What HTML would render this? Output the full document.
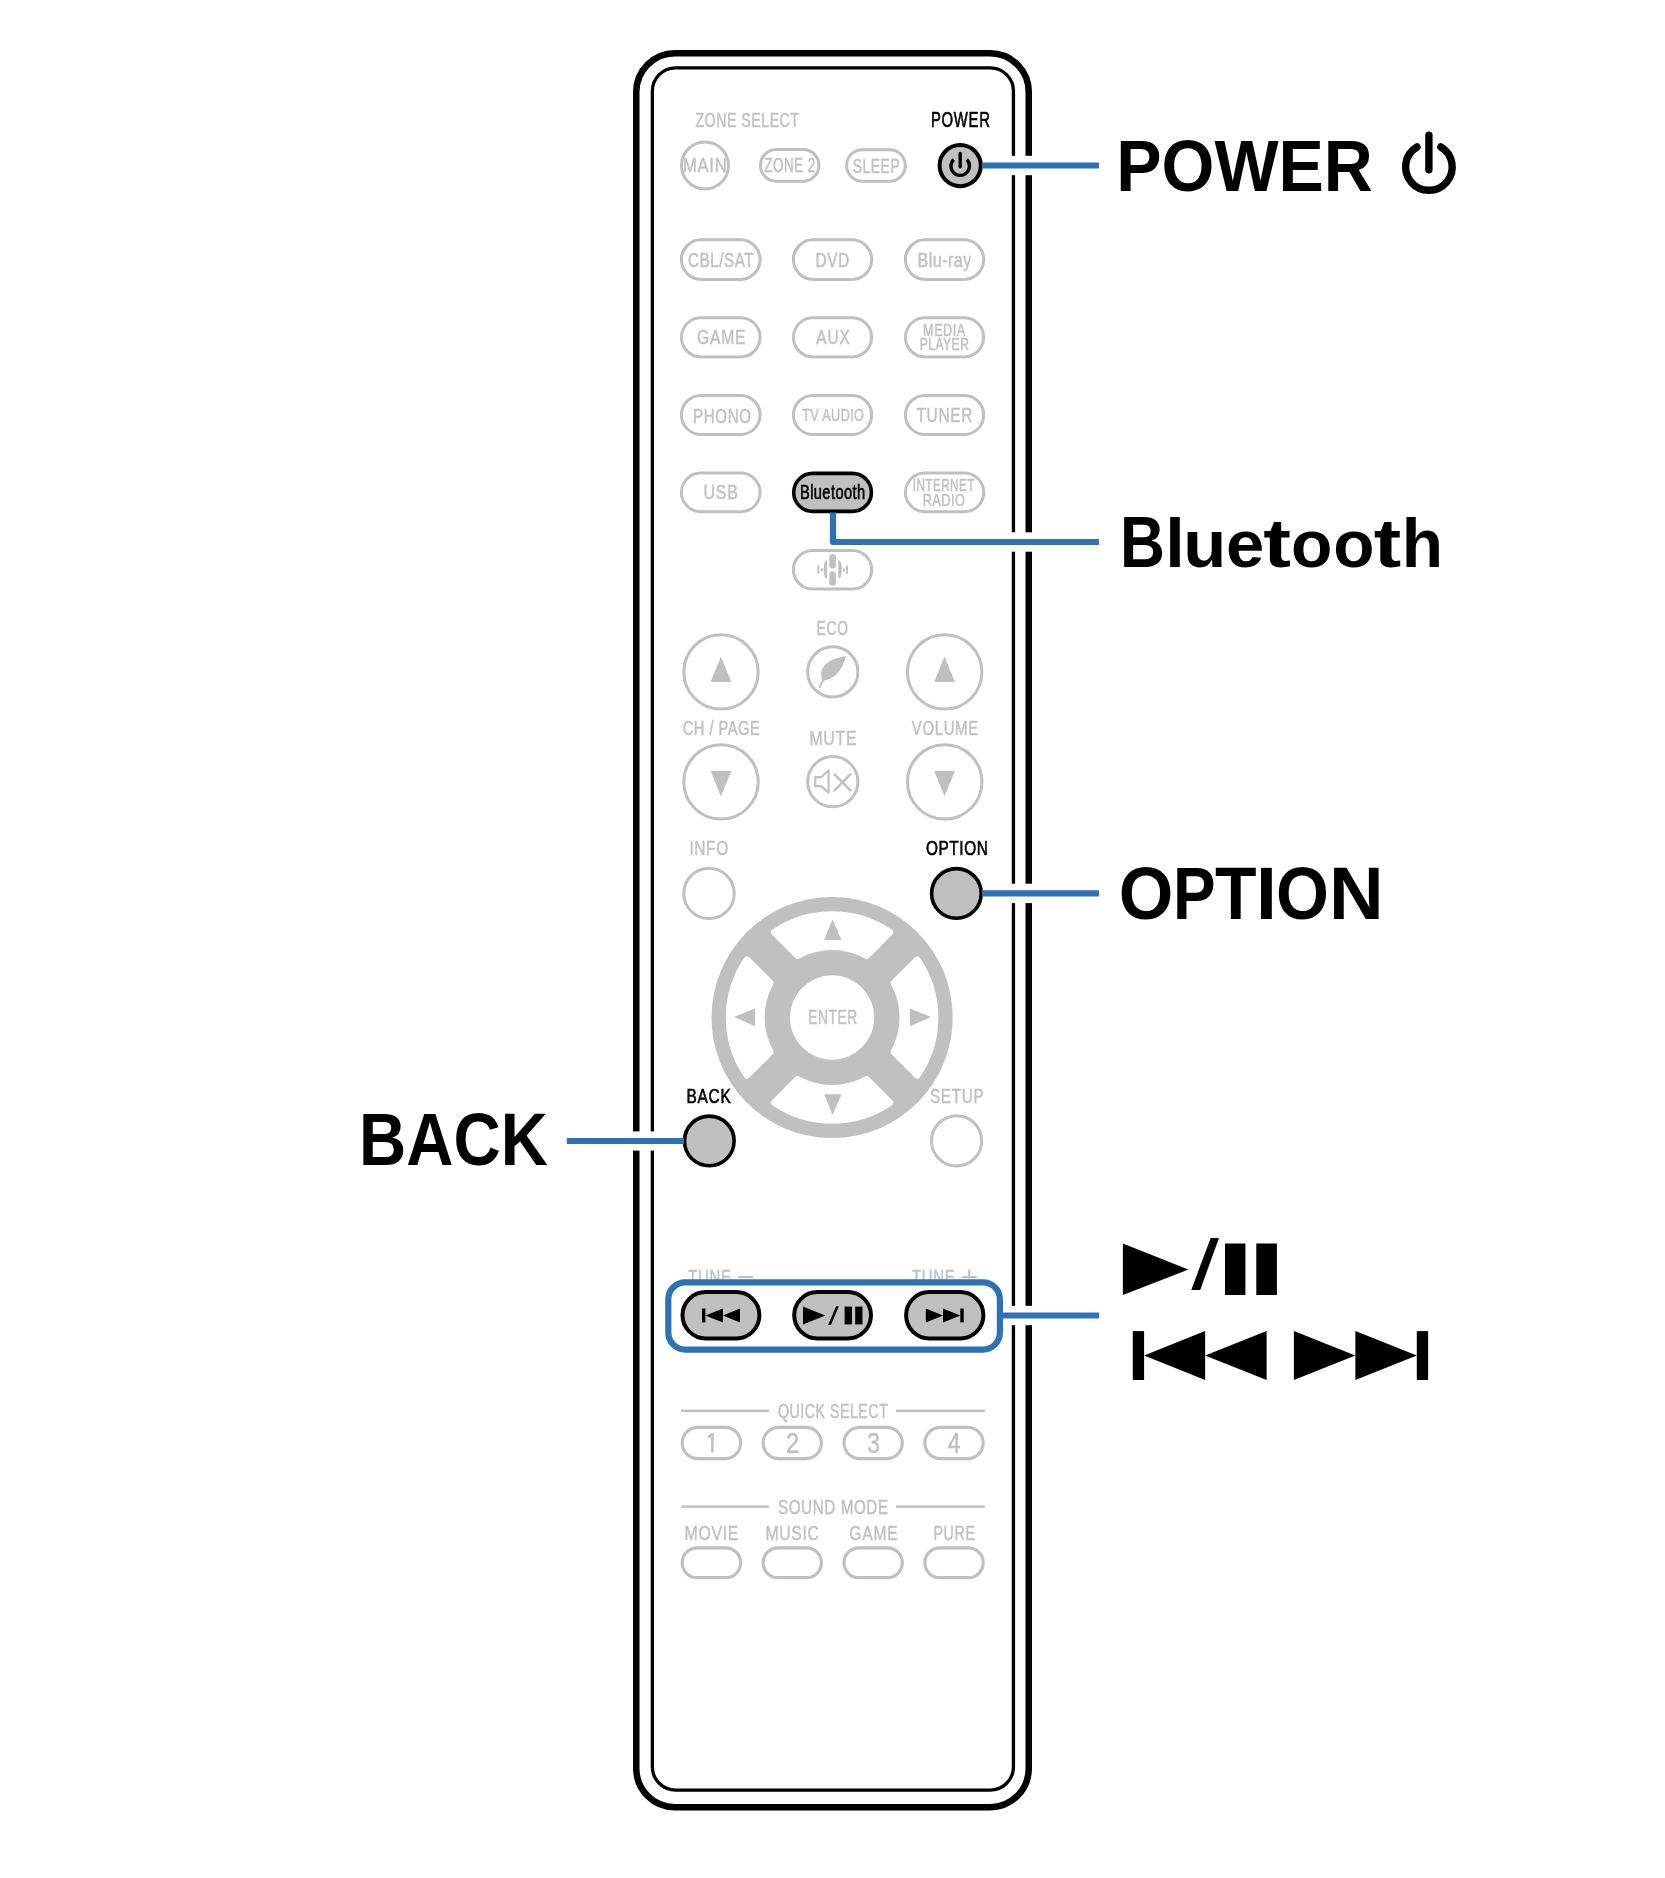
<!DOCTYPE html>
<html><head><meta charset="utf-8"><title>Remote</title>
<style>
html,body{margin:0;padding:0;background:#fff;}
body{width:1665px;height:1878px;overflow:hidden;}
svg{display:block;will-change:transform;font-family:"Liberation Sans",sans-serif;}
</style></head><body>
<svg width="1665" height="1878" viewBox="0 0 1665 1878">
<rect width="1665" height="1878" fill="#fff"/>
<rect x="636.25" y="53.25" width="392.5" height="1754.0" rx="38.75" fill="none" stroke="#000" stroke-width="6.5"/>
<rect x="652.35" y="67.85" width="361.10" height="1722.20" rx="23.35" fill="none" stroke="#000" stroke-width="3.3"/>
<rect x="1005" y="155.80" width="32" height="19.4" fill="#fff"/>
<rect x="1005" y="532.30" width="32" height="19.4" fill="#fff"/>
<rect x="1005" y="883.70" width="32" height="19.4" fill="#fff"/>
<rect x="1005" y="1305.80" width="32" height="19.4" fill="#fff"/>
<rect x="628" y="1131.40" width="32" height="19.2" fill="#fff"/>
<text transform="translate(695.90,127.20) scale(0.6872,1)" x="-0.66" y="0" font-size="20.64" letter-spacing="0.749" fill="#c0c0c0" stroke="#c0c0c0" stroke-width="0.4" vector-effect="non-scaling-stroke">ZONE SELECT</text>
<text transform="translate(932.10,127.40) scale(0.7016,1)" x="-1.74" y="0" font-size="21.22" letter-spacing="1.019" fill="#000" stroke="#000" stroke-width="0.55" vector-effect="non-scaling-stroke">POWER</text>
<circle cx="705.00" cy="165.50" r="23.50" fill="none" stroke="#c0c0c0" stroke-width="3"/>
<text transform="translate(684.40,172.30) scale(0.8059,1)" x="-1.69" y="0" font-size="20.64" letter-spacing="0.846" fill="#c0c0c0" stroke="#c0c0c0" stroke-width="0.4" vector-effect="non-scaling-stroke">MAIN</text>
<rect x="760.40" y="149.50" width="58.50" height="31.80" rx="15.90" fill="none" stroke="#c0c0c0" stroke-width="3"/>
<text transform="translate(764.70,172.30) scale(0.6507,1)" x="-0.66" y="0" font-size="20.64" letter-spacing="0.767" fill="#c0c0c0" stroke="#c0c0c0" stroke-width="0.4" vector-effect="non-scaling-stroke">ZONE 2</text>
<rect x="846.60" y="149.70" width="58.70" height="31.50" rx="15.75" fill="none" stroke="#c0c0c0" stroke-width="3"/>
<text transform="translate(853.30,172.50) scale(0.6909,1)" x="-0.92" y="0" font-size="20.06" letter-spacing="0.825" fill="#c0c0c0" stroke="#c0c0c0" stroke-width="0.4" vector-effect="non-scaling-stroke">SLEEP</text>
<circle cx="960.20" cy="165.60" r="20.60" fill="#c0c0c0" stroke="#000" stroke-width="4"/>
<path d="M953.7,159.5 A9.25,9.25 0 1 0 966.7,159.5" fill="none" stroke="#000" stroke-width="3.4" stroke-linecap="butt"/>
<line x1="960.2" y1="153.4" x2="960.2" y2="166.8" stroke="#000" stroke-width="3.4" stroke-linecap="round"/>
<rect x="681.40" y="239.80" width="78.70" height="39.60" rx="19.80" fill="none" stroke="#c0c0c0" stroke-width="3"/>
<rect x="793.40" y="239.80" width="78.30" height="39.60" rx="19.80" fill="none" stroke="#c0c0c0" stroke-width="3"/>
<rect x="905.40" y="239.80" width="78.30" height="39.60" rx="19.80" fill="none" stroke="#c0c0c0" stroke-width="3"/>
<rect x="681.40" y="317.70" width="78.70" height="39.20" rx="19.60" fill="none" stroke="#c0c0c0" stroke-width="3"/>
<rect x="793.40" y="317.70" width="78.30" height="39.20" rx="19.60" fill="none" stroke="#c0c0c0" stroke-width="3"/>
<rect x="905.40" y="317.70" width="78.30" height="39.20" rx="19.60" fill="none" stroke="#c0c0c0" stroke-width="3"/>
<rect x="681.40" y="395.40" width="78.70" height="39.00" rx="19.50" fill="none" stroke="#c0c0c0" stroke-width="3"/>
<rect x="793.40" y="395.40" width="78.30" height="39.00" rx="19.50" fill="none" stroke="#c0c0c0" stroke-width="3"/>
<rect x="905.40" y="395.40" width="78.30" height="39.00" rx="19.50" fill="none" stroke="#c0c0c0" stroke-width="3"/>
<rect x="681.40" y="473.10" width="78.70" height="38.60" rx="19.30" fill="none" stroke="#c0c0c0" stroke-width="3"/>
<rect x="793.70" y="473.40" width="77.70" height="38.00" rx="19.00" fill="#c0c0c0" stroke="#000" stroke-width="3.6"/>
<rect x="905.40" y="473.10" width="78.30" height="38.60" rx="19.30" fill="none" stroke="#c0c0c0" stroke-width="3"/>
<text transform="translate(688.80,267.10) scale(0.7333,1)" x="-1.04" y="0" font-size="20.78" letter-spacing="0.733" fill="#c0c0c0" stroke="#c0c0c0" stroke-width="0.4" vector-effect="non-scaling-stroke">CBL/SAT</text>
<text transform="translate(816.70,267.10) scale(0.7310,1)" x="-1.70" y="0" font-size="20.78" letter-spacing="1.084" fill="#c0c0c0" stroke="#c0c0c0" stroke-width="0.4" vector-effect="non-scaling-stroke">DVD</text>
<text transform="translate(918.80,267.10) scale(0.7781,1)" x="-1.70" y="0" font-size="20.78" letter-spacing="0.562" fill="#c0c0c0" stroke="#c0c0c0" stroke-width="0.4" vector-effect="non-scaling-stroke">Blu-ray</text>
<text transform="translate(697.70,344.40) scale(0.7564,1)" x="-1.04" y="0" font-size="20.78" letter-spacing="1.040" fill="#c0c0c0" stroke="#c0c0c0" stroke-width="0.4" vector-effect="non-scaling-stroke">GAME</text>
<text transform="translate(816.30,344.40) scale(0.7438,1)" x="-0.04" y="0" font-size="20.78" letter-spacing="1.113" fill="#c0c0c0" stroke="#c0c0c0" stroke-width="0.4" vector-effect="non-scaling-stroke">AUX</text>
<text transform="translate(924.10,336.00) scale(0.7732,1)" x="-1.35" y="0" font-size="16.42" letter-spacing="0.666" fill="#c0c0c0" stroke="#c0c0c0" stroke-width="0.4" vector-effect="non-scaling-stroke">MEDIA</text>
<text transform="translate(920.70,350.30) scale(0.7102,1)" x="-1.39" y="0" font-size="17.01" letter-spacing="0.670" fill="#c0c0c0" stroke="#c0c0c0" stroke-width="0.4" vector-effect="non-scaling-stroke">PLAYER</text>
<text transform="translate(694.20,422.60) scale(0.7456,1)" x="-1.66" y="0" font-size="20.20" letter-spacing="0.941" fill="#c0c0c0" stroke="#c0c0c0" stroke-width="0.4" vector-effect="non-scaling-stroke">PHONO</text>
<text transform="translate(802.40,421.20) scale(0.7275,1)" x="-0.38" y="0" font-size="17.30" letter-spacing="0.598" fill="#c0c0c0" stroke="#c0c0c0" stroke-width="0.4" vector-effect="non-scaling-stroke">TV AUDIO</text>
<text transform="translate(916.80,422.00) scale(0.7647,1)" x="-0.44" y="0" font-size="20.20" letter-spacing="0.897" fill="#c0c0c0" stroke="#c0c0c0" stroke-width="0.4" vector-effect="non-scaling-stroke">TUNER</text>
<text transform="translate(704.70,499.30) scale(0.7665,1)" x="-1.62" y="0" font-size="20.78" letter-spacing="1.053" fill="#c0c0c0" stroke="#c0c0c0" stroke-width="0.4" vector-effect="non-scaling-stroke">USB</text>
<text transform="translate(801.20,498.90) scale(0.7261,1)" x="-1.66" y="0" font-size="20.20" letter-spacing="0.542" fill="#000" stroke="#000" stroke-width="0.55" vector-effect="non-scaling-stroke">Bluetooth</text>
<text transform="translate(913.80,491.40) scale(0.7162,1)" x="-1.51" y="0" font-size="16.42" letter-spacing="0.603" fill="#c0c0c0" stroke="#c0c0c0" stroke-width="0.4" vector-effect="non-scaling-stroke">INTERNET</text>
<text transform="translate(923.70,505.90) scale(0.7749,1)" x="-1.35" y="0" font-size="16.42" letter-spacing="0.657" fill="#c0c0c0" stroke="#c0c0c0" stroke-width="0.4" vector-effect="non-scaling-stroke">RADIO</text>
<rect x="793.40" y="550.40" width="78.30" height="38.60" rx="19.30" fill="none" stroke="#c0c0c0" stroke-width="3"/>
<rect x="829.3" y="554.0" width="6.6" height="14.6" rx="3.3" fill="#c0c0c0"/>
<rect x="829.3" y="571.2" width="6.6" height="14.6" rx="3.3" fill="#c0c0c0"/>
<path d="M827.0,560.2 V579.0 C824.5,578.5 823.8,575 823.8,569.6 C823.8,564 824.5,560.8 827.0,560.2 Z" fill="#c0c0c0"/>
<path d="M838.3,560.2 V579.0 C840.8,578.5 841.8,575 841.8,569.6 C841.8,564 840.8,560.8 838.3,560.2 Z" fill="#c0c0c0"/>
<rect x="817.4" y="565.3" width="1.8" height="8.8" rx="0.9" fill="#c0c0c0"/>
<rect x="846.2" y="565.3" width="1.8" height="8.8" rx="0.9" fill="#c0c0c0"/>
<path d="M822.7,568.0 V572.0 C821.2,571.6 820.6,570.8 820.6,570 C820.6,569.2 821.2,568.4 822.7,568.0 Z" fill="#c0c0c0"/>
<path d="M843.0,568.0 V572.0 C844.5,571.6 845.1,570.8 845.1,570 C845.1,569.2 844.5,568.4 843.0,568.0 Z" fill="#c0c0c0"/>
<text transform="translate(817.70,634.70) scale(0.6661,1)" x="-1.70" y="0" font-size="20.78" letter-spacing="1.115" fill="#c0c0c0" stroke="#c0c0c0" stroke-width="0.4" vector-effect="non-scaling-stroke">ECO</text>
<circle cx="721.00" cy="671.90" r="37.20" fill="none" stroke="#c0c0c0" stroke-width="3"/>
<circle cx="944.70" cy="671.90" r="37.20" fill="none" stroke="#c0c0c0" stroke-width="3"/>
<circle cx="721.00" cy="781.90" r="37.20" fill="none" stroke="#c0c0c0" stroke-width="3"/>
<circle cx="944.70" cy="781.90" r="37.20" fill="none" stroke="#c0c0c0" stroke-width="3"/>
<circle cx="832.80" cy="671.90" r="25.10" fill="none" stroke="#c0c0c0" stroke-width="3"/>
<circle cx="832.80" cy="781.70" r="25.10" fill="none" stroke="#c0c0c0" stroke-width="3"/>
<polygon points="720.90,656.50 710.60,681.90 731.40,681.90" fill="#c0c0c0"/>
<polygon points="944.50,656.50 934.20,681.90 955.00,681.90" fill="#c0c0c0"/>
<polygon points="720.90,796.20 710.60,770.90 731.40,770.90" fill="#c0c0c0"/>
<polygon points="944.50,796.20 934.20,770.90 955.00,770.90" fill="#c0c0c0"/>
<path d="M846.0,656.2 C836,657.5 826,661 822.2,669 C820.6,672.5 820.8,677 822.4,680.6 C833,680 841.5,672 846.0,656.2 Z" fill="#c0c0c0"/>
<path d="M826.5,676.5 C823.5,679.5 821,683 819.5,687.2" fill="none" stroke="#c0c0c0" stroke-width="1.8" stroke-linecap="round"/>
<text transform="translate(683.50,735.20) scale(0.7279,1)" x="-1.01" y="0" font-size="20.20" letter-spacing="0.650" fill="#c0c0c0" stroke="#c0c0c0" stroke-width="0.4" vector-effect="non-scaling-stroke">CH / PAGE</text>
<text transform="translate(911.80,735.20) scale(0.7409,1)" x="-0.08" y="0" font-size="20.20" letter-spacing="0.888" fill="#c0c0c0" stroke="#c0c0c0" stroke-width="0.4" vector-effect="non-scaling-stroke">VOLUME</text>
<text transform="translate(810.70,744.70) scale(0.7629,1)" x="-1.70" y="0" font-size="20.78" letter-spacing="0.987" fill="#c0c0c0" stroke="#c0c0c0" stroke-width="0.4" vector-effect="non-scaling-stroke">MUTE</text>
<path d="M815.3,777.2 H821.2 L828.6,770.2 V792.6 L821.2,786.2 H815.3 Z" fill="none" stroke="#c0c0c0" stroke-width="2.2" stroke-linejoin="round"/>
<path d="M834.5,774.4 L850.4,790.3 M834.5,790.3 L850.4,774.4" fill="none" stroke="#c0c0c0" stroke-width="2.6" stroke-linecap="round"/>
<text transform="translate(690.80,855.20) scale(0.7462,1)" x="-1.91" y="0" font-size="20.78" letter-spacing="0.820" fill="#c0c0c0" stroke="#c0c0c0" stroke-width="0.4" vector-effect="non-scaling-stroke">INFO</text>
<text transform="translate(926.70,855.20) scale(0.7404,1)" x="-1.00" y="0" font-size="20.78" letter-spacing="0.810" fill="#000" stroke="#000" stroke-width="0.55" vector-effect="non-scaling-stroke">OPTION</text>
<circle cx="709.00" cy="893.40" r="25.20" fill="none" stroke="#c0c0c0" stroke-width="3"/>
<circle cx="956.40" cy="893.40" r="24.80" fill="#c0c0c0" stroke="#000" stroke-width="3.6"/>
<circle cx="832.1" cy="1017.5" r="120.6" fill="#c0c0c0"/>
<path d="M-57.58,-85.16 A102.8,102.8 0 0 1 57.58,-85.16 L34.49,-62.06 A71.0,71.0 0 0 0 -34.49,-62.06 Z" fill="#fff" stroke="#fff" stroke-width="7.0" stroke-linejoin="round" transform="translate(832.1 1017.5) rotate(0)"/>
<path d="M-57.58,-85.16 A102.8,102.8 0 0 1 57.58,-85.16 L34.49,-62.06 A71.0,71.0 0 0 0 -34.49,-62.06 Z" fill="#fff" stroke="#fff" stroke-width="7.0" stroke-linejoin="round" transform="translate(832.1 1017.5) rotate(90)"/>
<path d="M-57.58,-85.16 A102.8,102.8 0 0 1 57.58,-85.16 L34.49,-62.06 A71.0,71.0 0 0 0 -34.49,-62.06 Z" fill="#fff" stroke="#fff" stroke-width="7.0" stroke-linejoin="round" transform="translate(832.1 1017.5) rotate(180)"/>
<path d="M-57.58,-85.16 A102.8,102.8 0 0 1 57.58,-85.16 L34.49,-62.06 A71.0,71.0 0 0 0 -34.49,-62.06 Z" fill="#fff" stroke="#fff" stroke-width="7.0" stroke-linejoin="round" transform="translate(832.1 1017.5) rotate(270)"/>
<circle cx="832.1" cy="1017.5" r="42.2" fill="#fff"/>
<polygon points="832.50,919.20 824.20,940.00 841.50,940.00" fill="#c0c0c0"/>
<polygon points="832.50,1115.00 824.20,1094.20 841.50,1094.20" fill="#c0c0c0"/>
<polygon points="733.80,1016.90 755.20,1008.40 755.20,1026.20" fill="#c0c0c0"/>
<polygon points="931.20,1016.90 909.80,1008.40 909.80,1026.20" fill="#c0c0c0"/>
<text transform="translate(809.30,1023.90) scale(0.6833,1)" x="-1.66" y="0" font-size="20.20" letter-spacing="0.867" fill="#c0c0c0" stroke="#c0c0c0" stroke-width="0.4" vector-effect="non-scaling-stroke">ENTER</text>
<text transform="translate(687.80,1102.70) scale(0.7640,1)" x="-1.66" y="0" font-size="20.20" letter-spacing="0.931" fill="#000" stroke="#000" stroke-width="0.55" vector-effect="non-scaling-stroke">BACK</text>
<text transform="translate(930.70,1102.70) scale(0.7571,1)" x="-0.93" y="0" font-size="20.20" letter-spacing="0.860" fill="#c0c0c0" stroke="#c0c0c0" stroke-width="0.4" vector-effect="non-scaling-stroke">SETUP</text>
<circle cx="709.30" cy="1140.90" r="24.80" fill="#c0c0c0" stroke="#000" stroke-width="3.6"/>
<circle cx="956.60" cy="1140.90" r="25.10" fill="none" stroke="#c0c0c0" stroke-width="3"/>
<text transform="translate(688.50,1284.00) scale(0.7238,1)" x="-0.45" y="0" font-size="20.64" letter-spacing="0.962" fill="#c0c0c0" stroke="#c0c0c0" stroke-width="0.4" vector-effect="non-scaling-stroke">TUNE</text>
<rect x="738.2" y="1276.0" width="14.8" height="2.1" fill="#c0c0c0"/>
<text transform="translate(912.30,1284.00) scale(0.7188,1)" x="-0.46" y="0" font-size="20.78" letter-spacing="0.969" fill="#c0c0c0" stroke="#c0c0c0" stroke-width="0.4" vector-effect="non-scaling-stroke">TUNE</text>
<rect x="961.9" y="1276.0" width="15.0" height="2.1" fill="#c0c0c0"/>
<rect x="968.2" y="1269.4" width="2.1" height="9" fill="#c0c0c0"/>
<rect x="682.50" y="1292.00" width="76.90" height="46.40" rx="23.20" fill="#c0c0c0" stroke="#000" stroke-width="4"/>
<rect x="794.20" y="1292.00" width="76.80" height="46.40" rx="23.20" fill="#c0c0c0" stroke="#000" stroke-width="4"/>
<rect x="906.10" y="1292.00" width="77.30" height="46.40" rx="23.20" fill="#c0c0c0" stroke="#000" stroke-width="4"/>
<rect x="702.0" y="1308.5" width="3.4" height="13.9" fill="#000"/>
<polygon points="705.40,1315.50 722.90,1308.50 722.90,1322.40" fill="#000"/>
<polygon points="722.90,1315.50 740.00,1308.50 740.00,1322.40" fill="#000"/>
<polygon points="803.00,1306.60 803.00,1324.40 825.20,1315.50" fill="#000"/>
<polygon points="828.10,1324.90 830.90,1324.90 838.90,1306.20 836.10,1306.20" fill="#000"/>
<rect x="844.6" y="1306.6" width="7.4" height="17.8" fill="#000"/>
<rect x="855.2" y="1306.6" width="7.3" height="17.8" fill="#000"/>
<polygon points="925.80,1308.50 925.80,1322.40 943.00,1315.50" fill="#000"/>
<polygon points="943.00,1308.50 943.00,1322.40 960.30,1315.50" fill="#000"/>
<rect x="960.3" y="1308.5" width="3.4" height="13.9" fill="#000"/>
<rect x="680.9" y="1409.6" width="88.2" height="2.4" fill="#c0c0c0"/>
<rect x="896.0" y="1409.6" width="88.8" height="2.4" fill="#c0c0c0"/>
<text transform="translate(778.60,1418.10) scale(0.6907,1)" x="-0.99" y="0" font-size="20.64" letter-spacing="0.717" fill="#c0c0c0" stroke="#c0c0c0" stroke-width="0.4" vector-effect="non-scaling-stroke">QUICK SELECT</text>
<rect x="682.20" y="1427.40" width="58.40" height="31.20" rx="15.60" fill="none" stroke="#c0c0c0" stroke-width="3.2"/>
<rect x="763.10" y="1427.40" width="58.30" height="31.20" rx="15.60" fill="none" stroke="#c0c0c0" stroke-width="3.2"/>
<rect x="844.00" y="1427.40" width="58.30" height="31.20" rx="15.60" fill="none" stroke="#c0c0c0" stroke-width="3.2"/>
<rect x="924.90" y="1427.40" width="58.30" height="31.20" rx="15.60" fill="none" stroke="#c0c0c0" stroke-width="3.2"/>
<path d="M713.7,1433.1 V1452.6 H711.1 V1436.4 L708.7,1438.4 L707.5,1436.3 L711.3,1433.1 Z" fill="#c0c0c0"/>
<text transform="translate(787.20,1452.80) scale(0.8306,1)" x="-1.44" y="0" font-size="28.78" fill="#c0c0c0" stroke="#c0c0c0" stroke-width="0.4" vector-effect="non-scaling-stroke">2</text>
<text transform="translate(868.00,1452.80) scale(0.7917,1)" x="-1.09" y="0" font-size="28.78" fill="#c0c0c0" stroke="#c0c0c0" stroke-width="0.4" vector-effect="non-scaling-stroke">3</text>
<text transform="translate(948.50,1452.80) scale(0.7791,1)" x="-0.63" y="0" font-size="28.78" fill="#c0c0c0" stroke="#c0c0c0" stroke-width="0.4" vector-effect="non-scaling-stroke">4</text>
<rect x="680.9" y="1505.4" width="88.2" height="2.4" fill="#c0c0c0"/>
<rect x="896.0" y="1505.4" width="88.8" height="2.4" fill="#c0c0c0"/>
<text transform="translate(778.60,1513.90) scale(0.7326,1)" x="-0.96" y="0" font-size="20.78" letter-spacing="0.827" fill="#c0c0c0" stroke="#c0c0c0" stroke-width="0.4" vector-effect="non-scaling-stroke">SOUND MODE</text>
<text transform="translate(685.90,1539.70) scale(0.7992,1)" x="-1.63" y="0" font-size="19.91" letter-spacing="0.812" fill="#c0c0c0" stroke="#c0c0c0" stroke-width="0.4" vector-effect="non-scaling-stroke">MOVIE</text>
<text transform="translate(766.70,1539.70) scale(0.7936,1)" x="-1.63" y="0" font-size="19.91" letter-spacing="0.813" fill="#c0c0c0" stroke="#c0c0c0" stroke-width="0.4" vector-effect="non-scaling-stroke">MUSIC</text>
<text transform="translate(850.00,1539.70) scale(0.7862,1)" x="-1.00" y="0" font-size="19.91" letter-spacing="0.996" fill="#c0c0c0" stroke="#c0c0c0" stroke-width="0.4" vector-effect="non-scaling-stroke">GAME</text>
<text transform="translate(934.60,1539.70) scale(0.7136,1)" x="-1.63" y="0" font-size="19.91" letter-spacing="0.927" fill="#c0c0c0" stroke="#c0c0c0" stroke-width="0.4" vector-effect="non-scaling-stroke">PURE</text>
<rect x="682.20" y="1547.80" width="58.40" height="29.90" rx="14.95" fill="none" stroke="#c0c0c0" stroke-width="3.2"/>
<rect x="763.10" y="1547.80" width="58.30" height="29.90" rx="14.95" fill="none" stroke="#c0c0c0" stroke-width="3.2"/>
<rect x="844.00" y="1547.80" width="58.30" height="29.90" rx="14.95" fill="none" stroke="#c0c0c0" stroke-width="3.2"/>
<rect x="924.90" y="1547.80" width="58.30" height="29.90" rx="14.95" fill="none" stroke="#c0c0c0" stroke-width="3.2"/>
<path d="M685.3,1282.3 H982.9 A17,17 0 0 1 999.9,1299.3 V1332.6 A17,17 0 0 1 982.9,1349.6 H685.3 A17,17 0 0 1 668.3,1332.6 V1299.3 A17,17 0 0 1 685.3,1282.3 Z" fill="none" stroke="#2f72b3" stroke-width="6.2"/>
<line x1="982.0" y1="165.5" x2="1099.0" y2="165.5" stroke="#2f72b3" stroke-width="6.2"/>
<path d="M833.0,512.6 V542.0 H1099.0" fill="none" stroke="#2f72b3" stroke-width="6.2" stroke-linejoin="round"/>
<line x1="982.0" y1="893.3" x2="1099.0" y2="893.3" stroke="#2f72b3" stroke-width="6.2"/>
<line x1="566.8" y1="1141.0" x2="684.0" y2="1141.0" stroke="#2f72b3" stroke-width="6.2"/>
<line x1="1000.0" y1="1315.5" x2="1099.2" y2="1315.5" stroke="#2f72b3" stroke-width="6.2"/>
<text transform="translate(1120.80,190.90) scale(0.9292,1)" x="-4.83" y="0" font-size="73.11" font-weight="bold" fill="#000">POWER</text>
<text transform="translate(1124.00,567.00) scale(0.8572,1.0000)" x="-4.80" y="0" font-size="72.67" font-weight="bold" fill="#000">B</text>
<text transform="translate(1170.10,567.00) scale(0.9672,0.9503)" x="-5.09" y="0" font-size="72.67" font-weight="bold" fill="#000">l</text>
<text transform="translate(1187.70,567.00) scale(0.9706,0.9095)" x="-4.51" y="0" font-size="72.67" font-weight="bold" fill="#000">u</text>
<text transform="translate(1228.80,567.00) scale(0.9478,0.9207)" x="-2.91" y="0" font-size="72.67" font-weight="bold" fill="#000">e</text>
<text transform="translate(1264.20,567.00) scale(1.1482,0.9455)" x="-0.87" y="0" font-size="72.67" font-weight="bold" fill="#000">t</text>
<text transform="translate(1293.70,567.00) scale(0.9337,0.9207)" x="-2.91" y="0" font-size="72.67" font-weight="bold" fill="#000">o</text>
<text transform="translate(1335.90,567.00) scale(0.9285,0.9207)" x="-2.91" y="0" font-size="72.67" font-weight="bold" fill="#000">o</text>
<text transform="translate(1374.70,567.00) scale(1.1348,0.9455)" x="-0.87" y="0" font-size="72.67" font-weight="bold" fill="#000">t</text>
<text transform="translate(1406.60,567.00) scale(0.9298,0.9503)" x="-5.09" y="0" font-size="72.67" font-weight="bold" fill="#000">h</text>
<text transform="translate(1121.60,919.00) scale(0.9579,1.0052)" x="-3.08" y="0" font-size="73.26" font-weight="bold" fill="#000">O</text>
<text transform="translate(1177.10,919.00) scale(0.8707,1.0000)" x="-4.83" y="0" font-size="73.26" font-weight="bold" fill="#000">P</text>
<text transform="translate(1215.90,919.00) scale(0.9286,1.0000)" x="-0.88" y="0" font-size="73.26" font-weight="bold" fill="#000">T</text>
<text transform="translate(1260.90,919.00) scale(1.0238,1.0000)" x="-4.83" y="0" font-size="73.26" font-weight="bold" fill="#000">I</text>
<text transform="translate(1278.90,919.00) scale(0.9284,1.0052)" x="-3.08" y="0" font-size="73.26" font-weight="bold" fill="#000">O</text>
<text transform="translate(1333.90,919.00) scale(1.0331,1.0000)" x="-4.83" y="0" font-size="73.26" font-weight="bold" fill="#000">N</text>
<text transform="translate(363.40,1165.00) scale(0.8923,1)" x="-4.83" y="0" font-size="73.26" font-weight="bold" fill="#000">BACK</text>
<path d="M1416.95,147 A23.3,23.3 0 1 0 1440.85,147" fill="none" stroke="#000" stroke-width="7.4" stroke-linecap="round"/>
<line x1="1428.9" y1="135.2" x2="1428.9" y2="169.8" stroke="#000" stroke-width="7.4" stroke-linecap="round"/>
<polygon points="1122.90,1243.50 1122.90,1295.00 1188.30,1269.60" fill="#000"/>
<polygon points="1191.30,1289.90 1200.20,1289.90 1219.00,1237.90 1210.70,1237.90" fill="#000"/>
<rect x="1225.0" y="1243.5" width="20.4" height="51.5" fill="#000"/>
<rect x="1256.3" y="1243.5" width="20.6" height="51.5" fill="#000"/>
<rect x="1132.8" y="1331.1" width="11.3" height="48.9" fill="#000"/>
<polygon points="1144.10,1355.60 1205.10,1331.10 1205.10,1380.00" fill="#000"/>
<polygon points="1205.10,1355.60 1266.60,1331.10 1266.60,1380.00" fill="#000"/>
<polygon points="1293.90,1331.10 1293.90,1380.00 1355.40,1355.60" fill="#000"/>
<polygon points="1355.40,1331.10 1355.40,1380.00 1416.80,1355.60" fill="#000"/>
<rect x="1416.8" y="1331.1" width="11.3" height="48.9" fill="#000"/>
</svg>
</body></html>
